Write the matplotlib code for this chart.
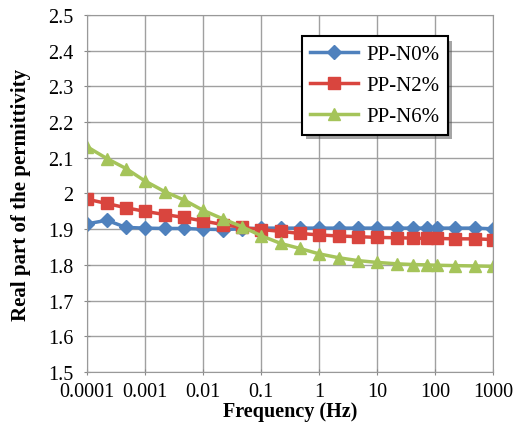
import numpy as np
import matplotlib.pyplot as plt
import matplotlib.patheffects as pe

plt.rcParams['font.family'] = ['Liberation Serif', 'DejaVu Serif']

# frequency points (Hz)
freq = [0.0001, 0.00022, 0.00047, 0.001, 0.0022, 0.0047, 0.01, 0.022, 0.047,
        0.1, 0.22, 0.47, 1, 2.2, 4.7, 10, 22, 42, 72, 110, 220, 500, 1000]

n0 = [1.915, 1.925, 1.905, 1.903, 1.902, 1.902, 1.900, 1.899, 1.901, 1.903,
      1.903, 1.903, 1.903, 1.903, 1.903, 1.903, 1.903, 1.903, 1.903, 1.903,
      1.903, 1.903, 1.901]
n2 = [1.984, 1.972, 1.960, 1.950, 1.941, 1.933, 1.923, 1.913, 1.905, 1.899,
      1.894, 1.888, 1.884, 1.881, 1.879, 1.877, 1.876, 1.875, 1.874, 1.874,
      1.873, 1.873, 1.871]
n6 = [2.131, 2.098, 2.070, 2.035, 2.005, 1.982, 1.953, 1.929, 1.907, 1.882,
      1.860, 1.846, 1.831, 1.820, 1.812, 1.807, 1.803, 1.801, 1.800, 1.799,
      1.798, 1.797, 1.796]

labels = ['PP-N0%', 'PP-N2%', 'PP-N6%']
xticks = [0.0001, 0.001, 0.01, 0.1, 1, 10, 100, 1000]
xticklabels = ['0.0001', '0.001', '0.01', '0.1', '1', '10', '100', '1000']
yticks = np.round(np.arange(1.5, 2.51, 0.1), 1)

fig = plt.figure(figsize=(5.26, 4.27), dpi=100)
ax = fig.add_axes([0.1654, 0.1265, 0.7716, 0.836])

ax.plot(freq, n0, color='#4F81BD', lw=2.5, marker='D', ms=7, label=labels[0])
ax.plot(freq, n2, color='#D9453E', lw=2.5, marker='s', ms=8, label=labels[1])
ax.plot(freq, n6, color='#A5C45A', lw=2.5, marker='^', ms=8, label=labels[2])

ax.set_xscale('log')
ax.set_xlim(0.0001, 1000)
ax.set_ylim(1.5, 2.5)
ax.set_xticks(xticks)
ax.set_xticklabels(xticklabels)
ax.minorticks_off()
ax.set_yticks(yticks)
ax.set_yticklabels(['%g' % v for v in yticks])
ax.tick_params(labelsize=14.5, length=4, color='#888888', direction='inout')
ax.tick_params(axis='x', pad=5)
ax.tick_params(axis='y', pad=8)
ax.grid(True, color='#a0a0a0', lw=1)
for s in ax.spines.values():
    s.set_color('#999999')

ax.set_xlabel('Frequency (Hz)', fontsize=14.5, fontweight='bold', labelpad=0.5)
ax.set_ylabel('Real part of the permittivity', fontsize=15, fontweight='bold', labelpad=12)

leg = ax.legend(loc='upper left', bbox_to_anchor=(0.53, 0.94), fontsize=15,
                fancybox=False, edgecolor='black', framealpha=1,
                borderaxespad=0, handlelength=2.3, handletextpad=0.4,
                borderpad=0.4, labelspacing=0.55)
leg.get_frame().set_linewidth(1.5)
leg.get_frame().set_path_effects([pe.withSimplePatchShadow(offset=(3, -3), alpha=0.5)])

fig.savefig('out.png', dpi=100)
